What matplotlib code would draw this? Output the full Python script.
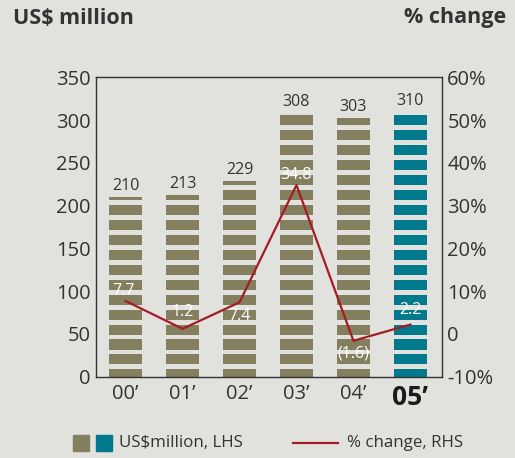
import matplotlib
matplotlib.use("Agg")
import matplotlib.pyplot as plt
import matplotlib.patches as mpatches
from matplotlib.lines import Line2D

plt.rcParams['font.family'] = ['Open Sans', 'DejaVu Sans']

years = ["00’", "01’", "02’", "03’", "04’", "05’"]
values = [210, 213, 229, 308, 303, 310]
pct_change = [7.7, 1.2, 7.4, 34.8, -1.6, 2.2]
pct_labels = ["7.7", "1.2", "7.4", "34.8", "(1.6)", "2.2"]
left_ticks = [0, 50, 100, 150, 200, 250, 300, 350]
right_ticks = [-10, 0, 10, 20, 30, 40, 50, 60]
right_tick_labels = ["-10%", "0", "10%", "20%", "30%", "40%", "50%", "60%"]

BG = "#e1e1dd"
OLIVE = "#847f5e"
TEAL = "#007a8c"
RED = "#a51c24"
TXT = "#333333"

fig = plt.figure(figsize=(5.15, 4.58), dpi=100)
fig.patch.set_facecolor(BG)
ax = fig.add_axes([0.1864, 0.1775, 0.6713, 0.6537])
ax.set_facecolor(BG)

x = list(range(len(years)))
colors = [OLIVE] * (len(years) - 1) + [TEAL]
ax.bar(x, values, width=0.58, color=colors, zorder=1)

# horizontal stripe gaps (style)
period, gap, first_gap = 17.5, 5.8, 8.5
g = first_gap
while g < 350:
    ax.axhspan(g, g + gap, color=BG, zorder=2, lw=0)
    g += period

for xi, v in zip(x, values):
    ax.annotate(str(v), (xi, v), xytext=(0, 3), textcoords='offset pixels',
                ha='center', va='bottom', fontsize=11.5, color=TXT, zorder=5)

ax.set_xlim(-0.52, 5.55)
ax.set_ylim(0, 350)
ax.set_yticks(left_ticks)
ax.set_xticks(x)
ax.set_xticklabels(years)
ax.tick_params(axis='both', length=0, labelsize=14.5, colors=TXT, pad=4)
ax.tick_params(axis='x', pad=5)
for lab in ax.get_xticklabels()[-1:]:
    lab.set_fontweight('bold')
    lab.set_fontsize(19)
    lab.set_color('#1a1a1a')
for sp in ax.spines.values():
    sp.set_color(TXT)
    sp.set_linewidth(1.0)
    sp.set_zorder(6)

ax2 = ax.twinx()
ax2.set_ylim(-10, 60)
ax2.set_yticks(right_ticks)
ax2.set_yticklabels(right_tick_labels)
ax2.tick_params(axis='y', length=0, labelsize=14.5, colors=TXT, pad=4)
for sp in ax2.spines.values():
    sp.set_visible(False)
ax2.plot(x, pct_change, color=RED, lw=1.6, zorder=4)

offsets = [(-2, 10), (0, 17), (0, -14), (0, 10), (0, -13), (0, 15)]
for xi, v, lab, off in zip(x, pct_change, pct_labels, offsets):
    ax2.annotate(lab, (xi, v), xytext=off, textcoords='offset pixels',
                 ha='center', va='center', fontsize=11.5, color='white', zorder=5)

fig.text(13/515, 1 - 18/458, "US$ million", ha='left', va='center',
         fontsize=15.5, fontweight='bold', color=TXT)
fig.text(506/515, 1 - 18/458, "% change", ha='right', va='center',
         fontsize=15.5, fontweight='bold', color=TXT)

# legend
fig.patches.append(mpatches.Rectangle((73/515, 1 - 451/458), 16/515, 16/458,
                                      transform=fig.transFigure, color=OLIVE))
fig.patches.append(mpatches.Rectangle((96/515, 1 - 451/458), 16/515, 16/458,
                                      transform=fig.transFigure, color=TEAL))
fig.text(119/515, 1 - 443/458, "US$million, LHS", ha='left', va='center',
         fontsize=12.2, color=TXT)
fig.lines.append(Line2D([293/515, 338/515], [1 - 443/458, 1 - 443/458],
                        transform=fig.transFigure, color=RED, lw=1.6))
fig.text(347/515, 1 - 443/458, "% change, RHS", ha='left', va='center',
         fontsize=12.2, color=TXT)

fig.savefig("out.png", dpi=100, facecolor=BG)
